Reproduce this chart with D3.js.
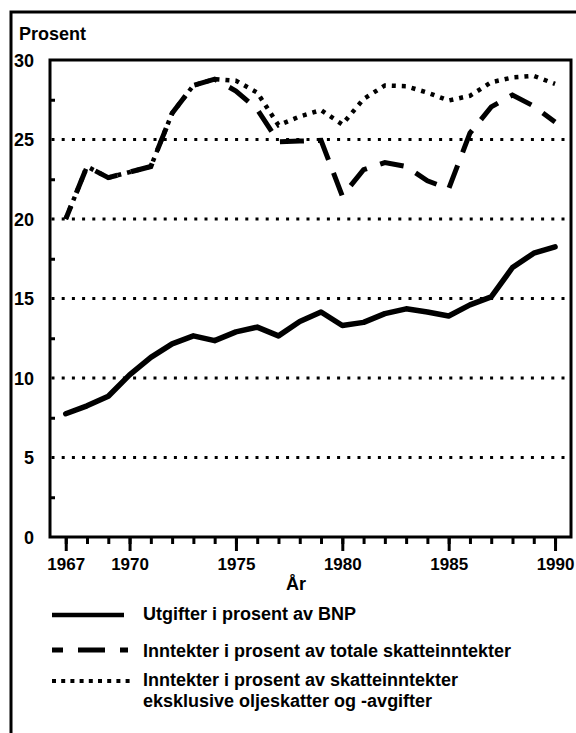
<!DOCTYPE html>
<html>
<head>
<meta charset="utf-8">
<script src="https://cdn.jsdelivr.net/npm/d3@7"></script>
<style>
  html, body { margin: 0; padding: 0; background: #fff; }
  svg { display: block; }
  text { font-family: "Liberation Sans", Arial, Helvetica, sans-serif; font-weight: bold; fill: #000; }
</style>
</head>
<body>
<script>
// ---- data ----
const years = d3.range(1967, 1991);
const utgifter = [7.75, 8.25, 8.85, 10.2, 11.3, 12.15, 12.65, 12.35, 12.9, 13.2, 12.65, 13.55,
                  14.15, 13.3, 13.5, 14.05, 14.35, 14.15, 13.9, 14.6, 15.1, 16.95, 17.85, 18.25];
const totale = [20.0, 23.3, 22.6, 22.95, 23.3, 26.65, 28.4, 28.8, 28.05, 26.9, 24.85, 24.9,
                24.95, 21.45, 23.1, 23.55, 23.3, 22.4, 21.9, 25.4, 27.05, 27.8, 27.1, 26.1];
const eksklOlje = [20.0, 23.3, 22.6, 22.95, 23.3, 26.65, 28.4, 28.8, 28.7, 27.95, 25.9, 26.45,
                   26.85, 25.95, 27.55, 28.4, 28.35, 27.95, 27.45, 27.75, 28.6, 28.9, 29.0, 28.5];
const yTicks = [0, 5, 10, 15, 20, 25, 30];
const yMinor = [2.5, 7.5, 12.5, 17.5, 22.5, 27.5];
const xMajor = [1967, 1970, 1975, 1980, 1985, 1990];
const yAxisTitle = "Prosent";
const xAxisTitle = "År";
const legendLabels = [
  ["Utgifter i prosent av BNP"],
  ["Inntekter i prosent av totale skatteinntekter"],
  ["Inntekter i prosent av skatteinntekter", "eksklusive oljeskatter og -avgifter"]
];

// ---- layout ----
const W = 576, H = 733;
const L = 50, R = 571, T = 60, B = 537;

const svg = d3.select("body").append("svg").attr("width", W).attr("height", H);
svg.append("rect").attr("width", W).attr("height", H).attr("fill", "#fff");

const x = d3.scaleLinear().domain([1966.26, 1990.75]).range([L, R]);
const y = d3.scaleLinear().domain([0, 30]).range([B, T]);

// outer frame (only top and left visible)
svg.append("path").attr("d", `M11,${H} V12 H${W}`)
  .attr("fill", "none").attr("stroke", "#000").attr("stroke-width", 3);

svg.append("text").attr("x", 19).attr("y", 40).attr("font-size", 18).text(yAxisTitle);

// gridlines
svg.append("g").selectAll("line").data(yTicks.filter(d => d > 0 && d < 30)).join("line")
  .attr("x1", L + 1.5).attr("x2", R)
  .attr("y1", d => y(d)).attr("y2", d => y(d))
  .attr("stroke", "#000").attr("stroke-width", 3)
  .attr("stroke-dasharray", "3,7.2");

// y minor ticks (inward)
const yMinorAxis = d3.axisRight(y).tickValues(yMinor).tickSize(5).tickFormat("");
const gym = svg.append("g").attr("transform", `translate(${L},0)`).call(yMinorAxis);
gym.select(".domain").remove();
gym.selectAll("line").attr("stroke-width", 3);

// y labels
const yLab = d3.axisLeft(y).tickValues(yTicks).tickSize(0).tickPadding(0);
const gyl = svg.append("g").attr("transform", `translate(34,0)`).call(yLab);
gyl.select(".domain").remove();
gyl.selectAll("text").attr("font-size", 18).attr("font-family", null).attr("dy", "0.36em");

// x minor ticks
const xMinorAxis = d3.axisBottom(x).tickValues(years).tickSize(7).tickFormat("");
const gxm = svg.append("g").attr("transform", `translate(0,${B})`).call(xMinorAxis);
gxm.select(".domain").remove();
gxm.selectAll("line").attr("stroke-width", 3);

// x major ticks + labels
const xMajorAxis = d3.axisBottom(x).tickValues(xMajor).tickSize(14).tickPadding(7).tickFormat(d3.format("d"));
const gxM = svg.append("g").attr("transform", `translate(0,${B})`).call(xMajorAxis);
gxM.select(".domain").remove();
gxM.selectAll("line").attr("stroke-width", 3);
gxM.selectAll("text").attr("font-size", 17).attr("font-family", null);

svg.append("text").attr("x", 296).attr("y", 590).attr("text-anchor", "middle")
  .attr("font-size", 18).text(xAxisTitle);

// plot frame
svg.append("rect").attr("x", L).attr("y", T).attr("width", R - L).attr("height", B - T)
  .attr("fill", "none").attr("stroke", "#000").attr("stroke-width", 3);

// series
const line = d3.line().x((d, i) => x(years[i])).y(d => y(d));
svg.append("path").datum(eksklOlje).attr("d", line)
  .attr("fill", "none").attr("stroke", "#000").attr("stroke-width", 4.5)
  .attr("stroke-dasharray", "4,6");
svg.append("path").datum(totale).attr("d", line)
  .attr("fill", "none").attr("stroke", "#000").attr("stroke-width", 5)
  .attr("stroke-dasharray", "24,14").attr("stroke-dashoffset", 10);
svg.append("path").datum(utgifter).attr("d", line)
  .attr("fill", "none").attr("stroke", "#000").attr("stroke-width", 5.5)
  .attr("stroke-linejoin", "round").attr("stroke-linecap", "round");

// legend
const lg = svg.append("g");
lg.append("line").attr("x1", 52).attr("x2", 124).attr("y1", 615).attr("y2", 615)
  .attr("stroke", "#000").attr("stroke-width", 4.5);
lg.append("line").attr("x1", 52).attr("x2", 128).attr("y1", 650).attr("y2", 650)
  .attr("stroke", "#000").attr("stroke-width", 5)
  .attr("stroke-dasharray", "27,15").attr("stroke-dashoffset", 16);
lg.append("line").attr("x1", 52).attr("x2", 130).attr("y1", 681).attr("y2", 681)
  .attr("stroke", "#000").attr("stroke-width", 4)
  .attr("stroke-dasharray", "4,5.2");
const baselines = [[620], [657], [686, 707]];
legendLabels.forEach((lines, i) => {
  lines.forEach((t, j) => {
    lg.append("text").attr("x", 143).attr("y", baselines[i][j]).attr("font-size", 18).text(t);
  });
});
</script>
</body>
</html>
